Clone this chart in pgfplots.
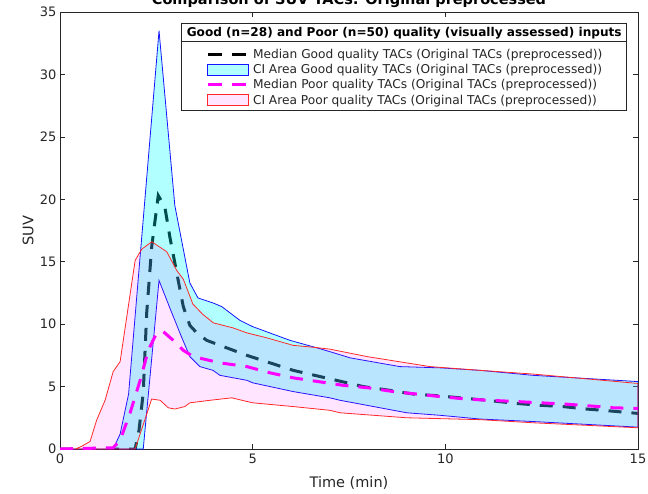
\documentclass[border=0pt]{standalone}
\usepackage{pgfplots}
\pgfplotsset{compat=1.18}
\usepackage{fontspec}
\setmainfont{DejaVu Sans}
\definecolor{axgray}{RGB}{38,38,38}
\definecolor{edgered}{RGB}{255,40,40}
\definecolor{mblue}{RGB}{20,20,255}
\definecolor{mcyan}{RGB}{0,255,255}
\definecolor{mmag}{RGB}{255,0,255}
\pgfplotsset{
  lineleg/.style={legend image code/.code={\draw[##1] (0pt,0pt) -- (41pt,0pt);}},
  boxleg/.style={legend image code/.code={\draw[##1] (0pt,-5.5pt) rectangle (41pt,5.5pt);}},
}
\begin{document}
\begin{tikzpicture}
\clip (0pt,0pt) rectangle (648pt,493pt);
\node[overlay, anchor=base, font=\bfseries\fontsize{14.5}{17}\selectfont, text=black] at (349pt,488pt) {Comparison of SUV TACs: Original preprocessed};
\begin{axis}[
  at={(60pt,44pt)}, anchor=south west,
  scale only axis, width=578pt, height=437pt,
  xmin=0, xmax=15, ymin=0, ymax=35,
  xtick={0,5,10,15}, ytick={0,5,...,35},
  xtick pos=both, ytick pos=both,
  tick align=inside, major tick length=5pt,
  axis line style={axgray, line width=0.6pt},
  tick style={axgray, line width=0.6pt},
  /pgf/number format/assume math mode=true,
  ticklabel style={font=\fontsize{13}{15}\selectfont, text=axgray},
  xticklabel style={yshift=-1.5pt},
  xlabel={Time (min)}, ylabel={SUV},
  label style={font=\fontsize{14.5}{17}\selectfont, text=axgray},
  xlabel style={at={(rel axis cs:0.5,-0.0778)}, anchor=center},
  ylabel style={at={(rel axis cs:-0.0554,0.5)}, anchor=center},
  legend style={at={(rel axis cs:0.2526,0.9153)}, anchor=north west,
    draw=none, fill=none, inner sep=0pt, outer sep=0pt,
    font=\fontsize{12.2}{14}\selectfont, text=axgray,
    nodes={inner sep=0pt}, row sep=4pt, column sep=3pt},
  legend cell align=left,
]
% median good (drawn under the fills)
\addplot[forget plot, black, line width=3pt, dash pattern=on 13pt off 10pt] coordinates {
(0,0)(1.95,0)(2.05,1.5)(2.16,4.5)(2.25,10.9)(2.38,16.2)(2.55,20.3)(2.72,19.4)(2.85,17.0)(3.03,14.1)(3.2,11.4)(3.37,9.9)(3.55,9.3)(3.81,8.7)(4.24,8.2)(4.85,7.5)(5.45,6.9)(6.05,6.3)(6.75,5.8)(7.31,5.4)(7.87,5.0)(8.56,4.7)(9.17,4.4)(9.86,4.25)(11.07,3.9)(11.85,3.65)(12.46,3.5)(13.05,3.4)(13.67,3.2)(14.27,3.05)(15,2.85)
};
% CI good
\addplot[forget plot, draw=mblue, line width=0.8pt, fill=mcyan, fill opacity=0.3] coordinates {
(0,0)(1.38,0)(1.56,1.2)(1.78,4.4)(2.57,33.5)(2.98,19.5)(3.37,13.3)(3.58,12.1)(3.97,11.7)(4.2,11.4)(4.67,10.3)(5.0,9.8)(5.97,8.7)(6.67,8.1)(7.0,7.8)(7.53,7.3)(8.82,6.6)(9.86,6.5)(10.9,6.3)(12.28,5.9)(15,5.4)
(15,1.75)(12.28,2.2)(10.9,2.4)(9.86,2.7)(9.0,2.9)(7.27,3.9)(7.0,4.1)(6.05,4.6)(5.0,5.3)(4.85,5.5)(4.15,5.9)(3.97,6.3)(3.63,6.6)(3.37,7.4)(3.15,9.0)(2.85,11.3)(2.57,13.5)(2.16,0)(0,0)
} -- cycle;
% CI poor
\addplot[forget plot, draw=edgered, line width=0.8pt, fill=mmag, fill opacity=0.1] coordinates {
(0,0)(0.4,0)(0.55,0.2)(0.78,0.6)(0.95,2.3)(1.17,3.9)(1.38,6.2)(1.56,7.0)(1.95,15.1)(2.12,16.0)(2.38,16.6)(2.77,15.8)(3.03,14.3)(3.2,13.6)(3.45,11.6)(3.7,10.8)(3.98,10.1)(4.49,9.7)(4.85,9.3)(5.37,8.9)(6.05,8.3)(6.57,8.15)(7.0,8.0)(7.97,7.4)(9.6,6.6)(10.9,6.3)(12.28,6.0)(15,5.25)
(15,1.7)(12.28,2.1)(10.9,2.35)(9.0,2.5)(7.27,2.9)(7.0,3.1)(6.05,3.4)(5.0,3.7)(4.59,4.0)(4.46,4.1)(3.89,3.9)(3.37,3.7)(3.24,3.4)(2.98,3.2)(2.81,3.3)(2.6,3.9)(2.38,4.0)(1.95,0)(0,0)
} -- cycle;
% median poor
\addplot[forget plot, mmag, line width=3pt, dash pattern=on 13pt off 10pt] coordinates {
(0,0)(1.38,0.1)(1.56,0.7)(1.82,2.9)(2.08,5.5)(2.29,7.9)(2.51,9.3)(2.68,9.4)(2.94,8.7)(3.2,7.9)(3.46,7.4)(4.15,6.9)(4.85,6.6)(5.45,6.1)(6.05,5.7)(7.35,5.1)(8.0,4.9)(8.65,4.6)(9.26,4.4)(9.86,4.2)(10.55,4.0)(11.16,3.9)(11.85,3.8)(12.46,3.7)(13.1,3.6)(13.76,3.45)(14.36,3.3)(15,3.25)
};
% legend box and title
\draw[axgray, line width=0.6pt, fill=white] (rel axis cs:0.2106,0.9741) rectangle (rel axis cs:0.9804,0.7757);
\draw[axgray, line width=0.6pt] (rel axis cs:0.2106,0.9320) -- (rel axis cs:0.9804,0.9320);
\node[font=\bfseries\fontsize{12.1}{14}\selectfont, text=black] at (rel axis cs:0.5955,0.9520) {Good (n=28) and Poor (n=50) quality (visually assessed) inputs};
\addlegendimage{black, line width=3pt, dash pattern=on 14pt off 10pt, lineleg}
\addlegendentry{Median Good quality TACs (Original TACs (preprocessed))}
\addlegendimage{draw=mblue, line width=0.8pt, fill=mcyan!30, boxleg}
\addlegendentry{CI Area Good quality TACs (Original TACs (preprocessed))}
\addlegendimage{mmag, line width=3pt, dash pattern=on 14pt off 10pt, lineleg}
\addlegendentry{Median Poor quality TACs (Original TACs (preprocessed))}
\addlegendimage{draw=edgered, line width=0.8pt, fill=mmag!10, boxleg}
\addlegendentry{CI Area Poor quality TACs (Original TACs (preprocessed))}
\end{axis}
\end{tikzpicture}
\end{document}
